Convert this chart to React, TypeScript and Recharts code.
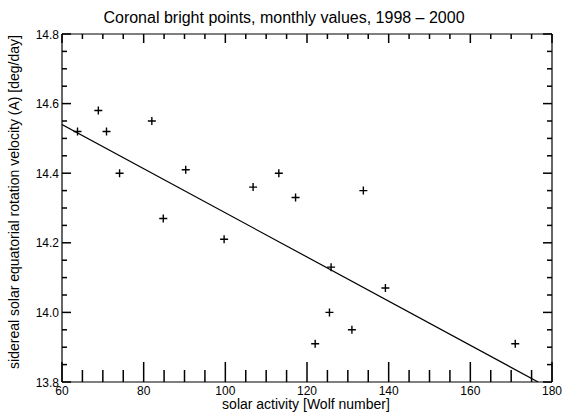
import { ScatterChart, Scatter, XAxis, YAxis, Label } from 'recharts'

// monthly values
const wolfNumber = [63.8, 68.9, 70.9, 74.1, 82.0, 84.8, 90.3, 99.7, 106.8, 113.1, 117.2, 122.0, 125.5, 125.9, 131.0, 133.8, 139.2, 171.0]
const rotationVel = [14.52, 14.58, 14.52, 14.40, 14.55, 14.27, 14.41, 14.21, 14.36, 14.40, 14.33, 13.91, 14.00, 14.13, 13.95, 14.35, 14.07, 13.91]

// linear fit endpoints
const fitWolf = [60, 176.6]
const fitVel = [14.54, 13.8]

const xMajor = [60, 80, 100, 120, 140, 160, 180]
const yMajor = [13.8, 14.0, 14.2, 14.4, 14.6, 14.8]
const xTicks = Array.from({ length: 25 }, (_, i) => 60 + 5 * i)
const yTicks = Array.from({ length: 21 }, (_, i) => Math.round((13.8 + 0.05 * i) * 100) / 100)

const points = wolfNumber.map((w, i) => ({ w, v: rotationVel[i] }))
const fitLine = fitWolf.map((w, i) => ({ w, v: fitVel[i] }))

const FONT = '"Liberation Sans", Arial, sans-serif'
const INK = '#000'
const MAJOR = 9
const MINOR = 5
const TW = 1.5

const isMajorX = (v: number) => xMajor.includes(v)
const isMajorY = (v: number) => yMajor.some((m) => Math.abs(m - v) < 1e-6)

function BottomTick({ x, y, payload }: any) {
  const major = isMajorX(payload.value)
  return (
    <g>
      <path d={`M${x},${y}V${y - (major ? 20 : 12)}`} stroke={INK} strokeWidth={TW} fill="none" />
      {major && (
        <text x={x} y={y + 13} textAnchor="middle" fontSize={12} fontFamily={FONT} fill={INK}>
          {payload.value}
        </text>
      )}
    </g>
  )
}

function TopTick({ x, y, payload }: any) {
  const major = isMajorX(payload.value)
  return <path d={`M${x},${y}V${y + (major ? MAJOR : MINOR)}`} stroke={INK} strokeWidth={TW} fill="none" />
}

function LeftTick({ x, y, payload }: any) {
  const major = isMajorY(payload.value)
  return (
    <g>
      <path d={`M${x},${y}H${x + (major ? MAJOR : MINOR)}`} stroke={INK} strokeWidth={TW} fill="none" />
      {major && (
        <text x={x - 3} y={y + 4.5} textAnchor="end" fontSize={12} fontFamily={FONT} fill={INK}>
          {payload.value.toFixed(1)}
        </text>
      )}
    </g>
  )
}

function RightTick({ x, y, payload }: any) {
  const major = isMajorY(payload.value)
  return <path d={`M${x},${y}H${x - (major ? MAJOR : MINOR)}`} stroke={INK} strokeWidth={TW} fill="none" />
}

function Plus({ cx, cy }: any) {
  return <path d={`M${cx - 4},${cy}H${cx + 4}M${cx},${cy - 4}V${cy + 4}`} stroke={INK} strokeWidth={1.4} />
}

export default function App() {
  return (
    <div style={{ position: 'absolute', left: 0, top: 0, background: '#fff' }}>
      <ScatterChart width={567} height={419} margin={{ top: 24, right: 5, bottom: 7, left: 12 }}>
        <XAxis
          xAxisId="b"
          dataKey="w"
          type="number"
          domain={[60, 180]}
          ticks={xTicks}
          interval={0}
          tick={<BottomTick />}
          tickLine={false}
          tickSize={0}
          tickMargin={0}
          axisLine={{ stroke: INK, strokeWidth: 1.2 }}
          height={30}
          allowDataOverflow
        >
          <Label
            content={() => (
              <text x={306} y={409} textAnchor="middle" fontSize={14} fontFamily={FONT} fill={INK}>
                solar activity [Wolf number]
              </text>
            )}
          />
        </XAxis>
        <XAxis
          xAxisId="t"
          orientation="top"
          dataKey="w"
          type="number"
          domain={[60, 180]}
          ticks={xTicks}
          interval={0}
          tick={<TopTick />}
          tickLine={false}
          tickSize={0}
          tickMargin={0}
          axisLine={{ stroke: INK, strokeWidth: 1.2 }}
          height={10}
          allowDataOverflow
        >
          <Label
            content={() => (
              <text x={284} y={23} textAnchor="middle" fontSize={16} fontFamily={FONT} fill={INK}>
                Coronal bright points, monthly values, 1998 – 2000
              </text>
            )}
          />
        </XAxis>
        <YAxis
          yAxisId="l"
          dataKey="v"
          type="number"
          domain={[13.8, 14.8]}
          ticks={yTicks}
          interval={0}
          tick={<LeftTick />}
          tickLine={false}
          tickSize={0}
          tickMargin={0}
          axisLine={{ stroke: INK, strokeWidth: 1.2 }}
          width={50}
          allowDataOverflow
        >
          <Label
            content={() => (
              <text
                x={19}
                y={202}
                transform="rotate(-90 19 202)"
                textAnchor="middle"
                fontSize={14}
                fontFamily={FONT}
                fill={INK}
              >
                sidereal solar equatorial rotation velocity (A) [deg/day]
              </text>
            )}
          />
        </YAxis>
        <YAxis
          yAxisId="r"
          orientation="right"
          dataKey="v"
          type="number"
          domain={[13.8, 14.8]}
          ticks={yTicks}
          interval={0}
          tick={<RightTick />}
          tickLine={false}
          tickSize={0}
          tickMargin={0}
          axisLine={{ stroke: INK, strokeWidth: 1.2 }}
          width={10}
          allowDataOverflow
        />
        <Scatter
          xAxisId="b"
          yAxisId="l"
          data={fitLine}
          line={{ stroke: INK, strokeWidth: 1.2 }}
          shape={() => <g />}
          isAnimationActive={false}
        />
        <Scatter xAxisId="b" yAxisId="l" data={points} shape={<Plus />} isAnimationActive={false} />
        <Scatter xAxisId="t" yAxisId="r" data={[]} isAnimationActive={false} />
      </ScatterChart>
    </div>
  )
}
